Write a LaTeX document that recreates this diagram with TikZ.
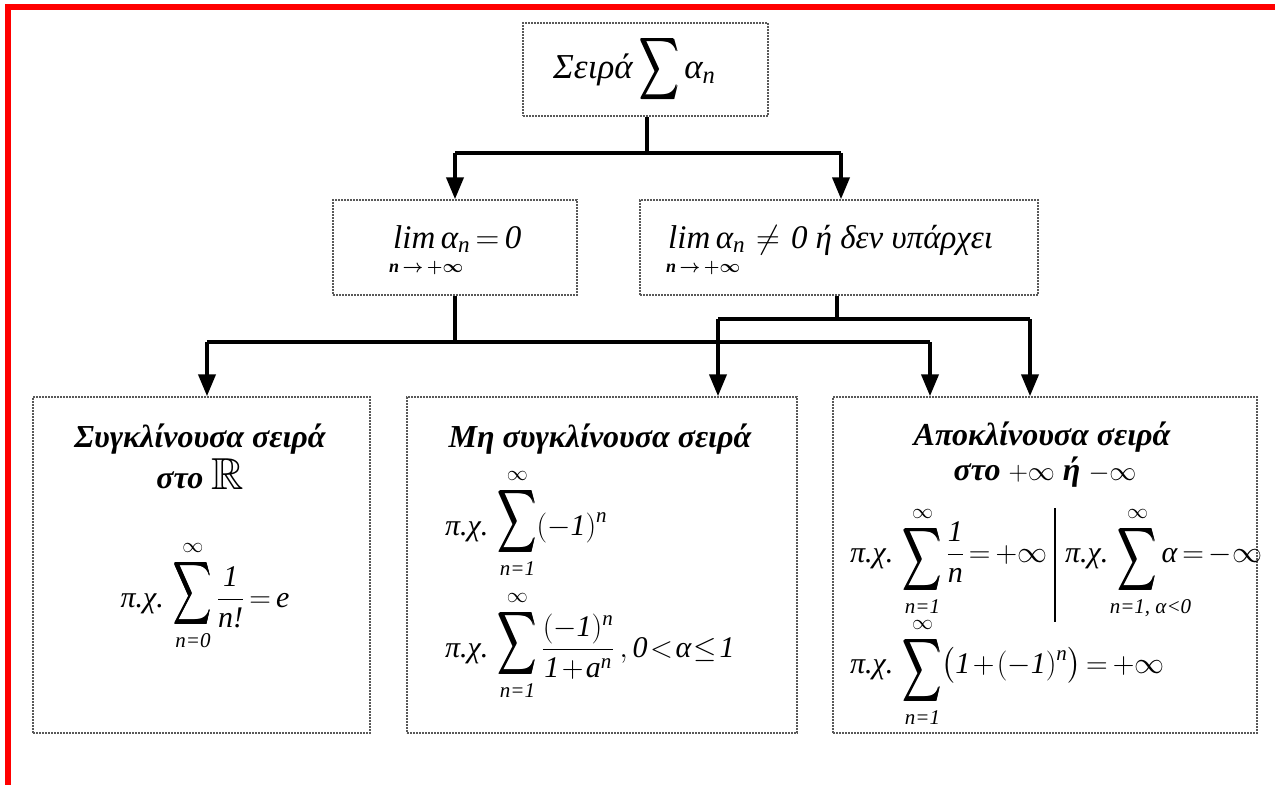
\RequirePackage{fix-cm}
\documentclass[tikz,border=0pt]{standalone}
\usepackage{amsmath,amssymb,mathtools}
\usepackage{fontspec}
\setmainfont{Liberation Serif}
\usetikzlibrary{arrows.meta}
\newcommand\T[1]{\textit{#1}}
\newcommand\Sum[1][5pt]{\mathop{\hbox{\rule{0pt}{\dimexpr 37pt-#1\relax}\lower#1\hbox{$\vcenter{\hbox{\scalebox{0.88}[1.45]{\pmb{$\displaystyle\sum$}}}}$}}}\limits}
\newcommand\BigS{\vcenter{\hbox{\fontsize{33}{33}\selectfont\scalebox{0.82}[1.3]{\pmb{$\displaystyle\sum$}}}}}
\tikzset{
  box/.style={draw=black!65, line width=1.5pt, dash pattern=on 2pt off 1pt, inner sep=0pt},
  conn/.style={line width=4pt, black},
  arr/.style={conn, -{Triangle[length=22pt,width=17pt]}},
  txt/.style={inner sep=0pt, anchor=base west},
  ctxt/.style={inner sep=0pt, anchor=base},
  big/.style={font=\fontsize{33}{40}\selectfont},
  mid/.style={font=\fontsize{30}{36}\selectfont},
  head/.style={font=\fontsize{32}{38}\selectfont\bfseries\itshape},
  sub/.style={font=\fontsize{18}{20}\selectfont\bfseries\boldmath},
}
\begin{document}
\medmuskip=1.5mu\relax
\thickmuskip=3mu\relax
\begin{tikzpicture}[x=1pt,y=-1pt]
\useasboundingbox (0,0) rectangle (1275,785);
% red frame
\draw[red, line width=6pt] (1275,7) -- (8,7) -- (8,785);

% boxes
\node[box, minimum width=245pt, minimum height=93pt] (top) at (645.5,69.5) {};
\node[box, minimum width=244pt, minimum height=95pt] (b2) at (455,247.5) {};
\node[box, minimum width=398pt, minimum height=95pt] (b3) at (839,247.5) {};
\node[box, minimum width=337pt, minimum height=336pt] (b4) at (201.5,565) {};
\node[box, minimum width=390pt, minimum height=336pt] (b5) at (602,565) {};
\node[box, minimum width=424pt, minimum height=336pt] (b6) at (1045,565) {};

% texts
\node[txt, font=\fontsize{35}{40}\selectfont] (t0) at (553,78) {\T{Σειρά}\hspace{7pt}$\BigS$\hspace{5pt}$\T{α}_{\T{n}}$};
\node[txt, big] (t2) at (393,248) {$\T{lim}\;\T{α}_{\T{n}}=\T{0}$};
\node[txt, sub] (t2s) at (389,272) {$\textbf{\T{n}}\to+\infty$};
\node[txt, big] (t3) at (668,248) {$\T{lim}\;\T{α}_{\T{n}}\;\neq\;\T{0}$ \T{ή δεν υπάρχει}};
\node[txt, sub] (t3s) at (666,272) {$\textbf{\T{n}}\to+\infty$};

\node[ctxt, head] (h4a) at (200,447) {Συγκλίνουσα σειρά};
\node[ctxt, head] (h4b) at (200,488) {στο \raisebox{-1pt}{\scalebox{1.4}{$\mathbb{R}$}}};
\node[ctxt, mid] (f4) at (205,607) {$\displaystyle\T{π.χ.}\,\Sum[-6pt]_{\T{n=0}}^{\infty}\frac{\T{1}}{\T{n!}}=\T{e}$};

\node[ctxt, head] (h5) at (600,447) {Μη συγκλίνουσα σειρά};
\node[txt, mid] (f5a) at (445,535) {$\displaystyle\T{π.χ.}\,\Sum[-6pt]_{\T{n=1}}^{\infty}(-\T{1})^{\T{n}}$};
\node[txt, mid] (f5b) at (445,657) {$\displaystyle\thickmuskip=1.5mu\T{π.χ.}\,\Sum[-6pt]_{\T{n=1}}^{\infty}\frac{(-\T{1})^{\T{n}}}{\T{1}+\T{a}^{\T{n}}}\,,\T{0}<\T{α}\le\T{1}$};

\node[ctxt, head] (h6a) at (1042,445) {Αποκλίνουσα σειρά};
\node[ctxt, head] (h6b) at (1045,480) {στο {\mdseries\upshape\fontsize{27}{30}\selectfont$+\infty$} ή {\mdseries\upshape\fontsize{27}{30}\selectfont$-\infty$}};
\node[txt, mid] (f6a) at (850,562) {$\displaystyle\T{π.χ.}\,\Sum_{\T{n=1}}^{\infty}\frac{\T{1}}{\T{n}}=+\infty$};
\node[txt, mid] (f6b) at (1065,562) {$\displaystyle\T{π.χ.}\;\Sum_{\mathclap{\hspace{26pt}\T{n=1, α<0}}}^{\infty}\T{α}=-\infty$};
\node[txt, mid] (f6c) at (850,673) {$\displaystyle\T{π.χ.}\,\Sum_{\T{n=1}}^{\infty}\bigl(\T{1}+(-\T{1})^{\T{n}}\bigr)=+\infty$};
\coordinate (barT) at (1055,508);
\coordinate (barB) at (1055,622);
\draw[line width=2.5pt] (barT) -- (barB);

% connectors
\coordinate (j1) at (647,153);
\coordinate (j1l) at (455,153);
\coordinate (j1r) at (841,153);
\draw[conn] (top.south -| j1) -- (j1);
\draw[conn] (j1l) -- (j1r);
\draw[arr] (j1l) -- (j1l |- b2.north);
\draw[arr] (j1r) -- (j1r |- b3.north);

\coordinate (j2) at (455,342);
\coordinate (j2l) at (207,342);
\coordinate (j2r) at (930,342);
\draw[conn] (b2.south -| j2) -- (j2);
\draw[conn] (j2l) -- (j2r);
\draw[arr] (j2l) -- (j2l |- b4.north);
\draw[arr] (j2r) -- (j2r |- b6.north);

\coordinate (j3) at (837,319);
\coordinate (j3l) at (718,319);
\coordinate (j3r) at (1030,319);
\draw[conn] (b3.south -| j3) -- (j3);
\draw[conn] (j3l) -- (j3r);
\draw[arr] (j3l) -- (j3l |- b5.north);
\draw[arr] (j3r) -- (j3r |- b6.north);
\end{tikzpicture}
\end{document}
